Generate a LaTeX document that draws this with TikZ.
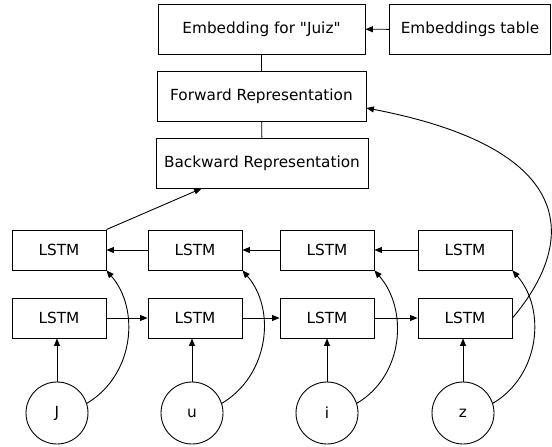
\documentclass[tikz,border=0pt]{standalone}
\usepackage{fontspec}
\setmainfont{DejaVu Sans}[Ligatures=TeXOff]
\usetikzlibrary{arrows.meta}
\begin{document}
\begin{tikzpicture}[x=1pt,y=-1pt,
  box/.style={draw,line width=0.9pt,inner sep=0pt,font=\fontsize{15.3}{18}\selectfont},
  lstm/.style={box,minimum width=94pt,minimum height=40pt},
  rep/.style={box,minimum height=50pt},
  chr/.style={box,circle,minimum size=62pt},
  arr/.style={line width=0.9pt,-{Triangle[length=7.5pt,width=6pt]}},
  ln/.style={line width=0.9pt}]
\useasboundingbox (0,0) rectangle (552,447);
% top nodes
\node[rep,minimum width=207pt] (emb) at (261.5,29) {Embedding for "Juiz"};
\node[rep,minimum width=161pt] (tab) at (470,29.5) {Embeddings table};
\node[rep,minimum width=209pt] (fwd) at (261.5,96) {Forward Representation};
\node[rep,minimum width=212pt] (bwd) at (262,163) {Backward Representation};
% LSTM rows
\node[lstm] (lb1) at (59,250) {LSTM};
\node[lstm] (lb2) at (195,250) {LSTM};
\node[lstm] (lb3) at (327,250) {LSTM};
\node[lstm] (lb4) at (465,250) {LSTM};
\node[lstm] (lf1) at (59,318) {LSTM};
\node[lstm] (lf2) at (195,318) {LSTM};
\node[lstm] (lf3) at (327,318) {LSTM};
\node[lstm] (lf4) at (465,318) {LSTM};
% characters
\node[chr] (c1) at (57,413) {J};
\node[chr] (c2) at (192,413) {u};
\node[chr] (c3) at (327,413) {i};
\node[chr] (c4) at (463,413) {z};
% connectors
\draw[arr] (tab) -- (emb);
\draw[ln] (emb) -- (fwd);
\draw[ln] (fwd) -- (bwd);
\draw[arr] (lb1.north east) -- ([xshift=46pt]bwd.south west);
\draw[arr] (lb2) -- (lb1);
\draw[arr] (lb3) -- (lb2);
\draw[arr] (lb4) -- (lb3);
\draw[arr] (lf1) -- (lf2);
\draw[arr] (lf2) -- (lf3);
\draw[arr] (lf3) -- (lf4);
\foreach \i in {1,2,3,4}{
  \draw[arr] (c\i.north) -- (c\i.north |- lf\i.south);
  \draw[arr] (c\i.18) .. controls +(47,-28) and +(34,39) .. (lb\i.south east);
}
\draw[arr] (lf4.east) .. controls +(62,-73) and +(218,42) .. ([yshift=-12pt]fwd.east);
\end{tikzpicture}
\end{document}
